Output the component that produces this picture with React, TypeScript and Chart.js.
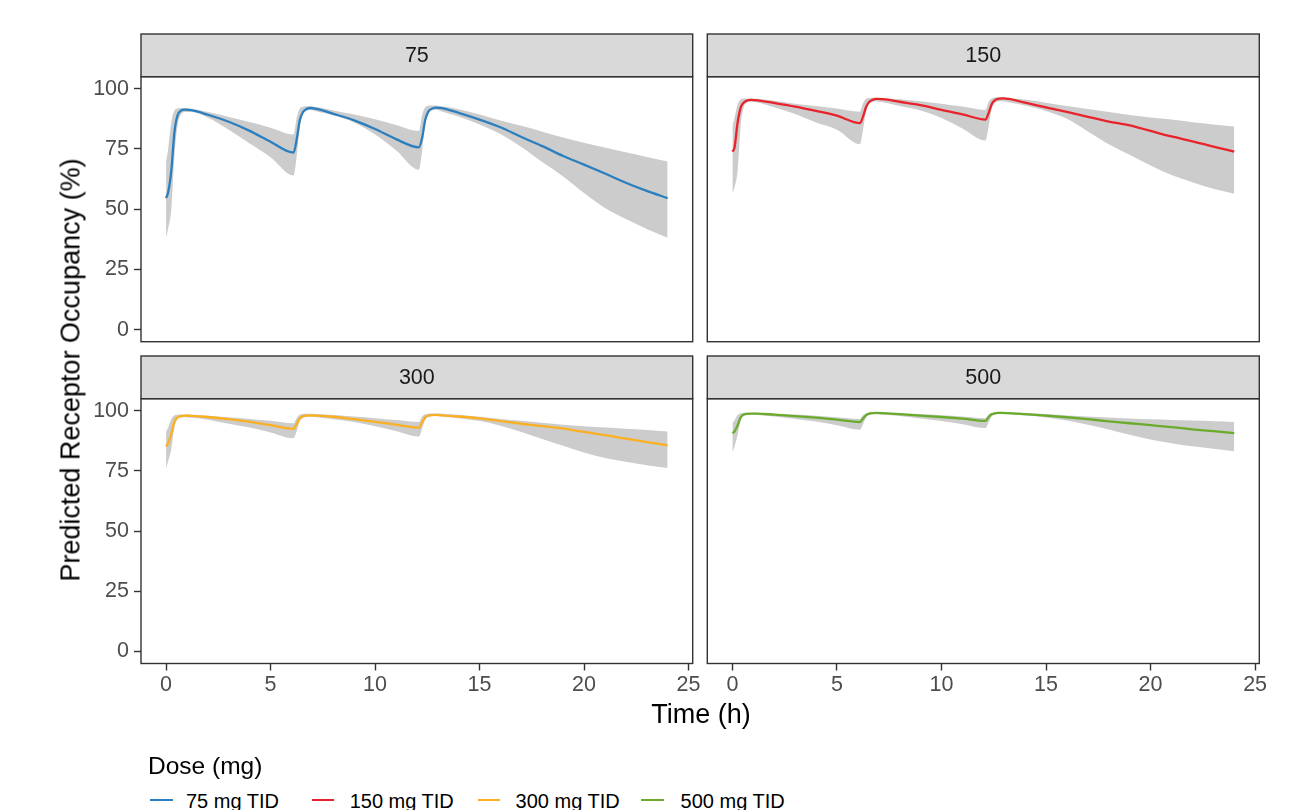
import React, { useEffect, useRef } from "react";
import { Chart, registerables } from "chart.js";

Chart.register(...registerables);

// ---------- data ----------
const timeHours = [
  0, 0.1, 0.25, 0.4, 0.55, 0.7, 0.9, 1.2, 2, 3, 4, 5,
  6.1, 6.25, 6.4, 6.55, 6.7, 6.9, 7.2, 8, 9, 10, 11,
  12.1, 12.25, 12.4, 12.55, 12.7, 12.9, 13.2,
  14, 15, 16, 17, 18, 19, 20, 21, 22, 23, 24,
];

const xTickValues = [0, 5, 10, 15, 20, 25];
const yTickValues = [0, 25, 50, 75, 100];

const panelLabels = ["75", "150", "300", "500"];
const legendLabels = ["75 mg TID", "150 mg TID", "300 mg TID", "500 mg TID"];
const seriesColors = ["#2b7fbf", "#e8232b", "#fbb022", "#6aab2c"];

const median75 = [54.6, 57, 66, 82, 89, 90.8, 91.3, 91.1, 89.2, 86.3, 82.5, 78, 73.5, 79, 87, 90.3, 91.5, 92, 91.6, 89.6, 86.9, 83.3, 79.1, 75.7, 79.5, 87, 90.5, 91.6, 92.2, 92, 90, 87.2, 84, 80, 76.2, 72.1, 68.5, 64.8, 61, 57.6, 54.6];
const upper75 = [69.6, 75, 86, 91, 91.8, 92, 92, 91.7, 90.3, 88.3, 86.2, 83.8, 81, 88, 91.8, 92.5, 92.7, 92.7, 92.4, 91, 89.3, 87.3, 85, 82.5, 89, 92.3, 92.9, 93, 93, 92.7, 91.5, 89.3, 86.8, 84.6, 82.2, 79.8, 77.6, 75.6, 73.6, 71.7, 69.8];
const lower75 = [38.1, 42, 50, 72, 85, 89, 90.3, 90.3, 88, 83, 77.3, 71.6, 64, 72, 84, 89.5, 90.8, 91.2, 90.6, 89, 86, 81, 74.5, 66.4, 74, 85.5, 90, 91.2, 91.3, 90.6, 88.5, 85.2, 81.2, 75.8, 69.6, 63.6, 56.7, 50.5, 45.9, 41.8, 38.1];

const median150 = [73.9, 75.5, 86, 92.3, 94.3, 95.1, 95.4, 95.2, 94.1, 92.6, 90.8, 88.8, 85.7, 88.5, 92.5, 94.6, 95.4, 95.8, 95.7, 94.6, 93.2, 91.2, 89.4, 87.2, 89.8, 93.6, 95.2, 95.8, 96, 95.8, 94.2, 92.3, 90.4, 88.3, 86.4, 84.8, 82.5, 80.2, 78.2, 76, 73.9];
const upper150 = [84.3, 88, 93.5, 95.5, 95.9, 96, 96, 95.8, 95, 93.8, 92.8, 91.8, 90.5, 94, 95.8, 96.2, 96.3, 96.3, 96.1, 95.6, 94.8, 93.8, 92.6, 91.2, 94.5, 96, 96.4, 96.5, 96.5, 96.3, 95.5, 94.2, 92.8, 91.6, 90.3, 89.1, 88.1, 87.2, 86.1, 85.2, 84.3];
const lower150 = [56.7, 59, 66, 85, 92.5, 94.3, 94.6, 94.3, 92.3, 89.5, 86, 83, 77, 83, 91, 93.8, 94.5, 94.7, 94.4, 92.8, 91, 87.9, 83.5, 78.5, 84, 91.5, 94, 94.7, 94.8, 94.4, 93, 90.8, 87.5, 82.3, 77, 72.6, 68.1, 64.2, 61.2, 58.5, 56.4];

const median300 = [85.2, 86.5, 90.5, 95.5, 97.2, 97.8, 98, 97.9, 97.4, 96.5, 95.4, 94, 92.5, 94.5, 96.8, 97.7, 98, 98.1, 98, 97.5, 96.5, 95.4, 94.2, 93, 95.2, 97.2, 97.9, 98.2, 98.3, 98.1, 97.6, 96.8, 95.7, 94.6, 93.6, 92.6, 91.2, 89.9, 88.4, 87, 85.6];
const upper300 = [91.4, 93, 96.5, 98, 98.3, 98.4, 98.4, 98.3, 97.9, 97.3, 96.6, 95.8, 94.8, 97, 98.3, 98.6, 98.7, 98.7, 98.6, 98.2, 97.6, 96.9, 96.1, 95.3, 97.5, 98.5, 98.8, 98.9, 98.9, 98.8, 98.3, 97.5, 96.6, 95.8, 95, 94.2, 93.6, 93, 92.5, 92, 91.4];
const lower300 = [76.2, 79, 84, 93, 96.5, 97.2, 97.3, 97.1, 96.3, 94.6, 93, 91, 88.6, 91.5, 95.8, 97, 97.4, 97.5, 97.3, 96.5, 95.3, 93.6, 91.6, 89.3, 92.5, 96.3, 97.4, 97.7, 97.8, 97.6, 96.9, 95.7, 93.8, 91.2, 88.3, 85.5, 82.7, 80.4, 78.8, 77.4, 76.2];

const median500 = [90.7, 91.3, 94, 97.3, 98.4, 98.7, 98.8, 98.8, 98.4, 97.8, 97.1, 96.3, 95.3, 96.8, 98.2, 98.8, 99, 99.1, 99, 98.6, 98, 97.4, 96.7, 95.8, 97.3, 98.5, 98.9, 99.1, 99.1, 99, 98.6, 98, 97.3, 96.5, 95.6, 94.8, 94, 93.2, 92.3, 91.5, 90.7];
const upper500 = [94.8, 96, 98.2, 99, 99.1, 99.2, 99.2, 99.1, 98.8, 98.4, 97.9, 97.3, 96.6, 98.2, 99, 99.3, 99.4, 99.4, 99.3, 99, 98.6, 98.1, 97.6, 96.9, 98.5, 99.2, 99.4, 99.5, 99.5, 99.4, 99.1, 98.6, 98, 97.6, 97.2, 96.8, 96.5, 96.2, 95.9, 95.6, 95.3];
const lower500 = [82.5, 85, 90, 96, 97.8, 98.2, 98.3, 98.2, 97.6, 96.6, 95.5, 94, 92.1, 94.5, 97.3, 98.2, 98.5, 98.5, 98.3, 97.8, 96.8, 95.7, 94.4, 92.8, 95, 97.6, 98.4, 98.7, 98.7, 98.5, 98, 97.2, 95.9, 94.2, 92.2, 90, 88, 86.5, 85.2, 84.2, 83.2];

const medians = [median75, median150, median300, median500];
const uppers = [upper75, upper150, upper300, upper500];
const lowers = [lower75, lower150, lower300, lower500];

// ---------- styling / layout ----------
const FONT = '"Liberation Sans", Arial, Helvetica, sans-serif';
const STRIP_H = 42.7;
const RIBBON = "#cccccc";
const BORDER = "#333333";

type Layout = {
  left: number; top: number; width: number; height: number;
  pad: { left: number; right: number; top: number; bottom: number };
  showX: boolean; showY: boolean;
};

const layouts: Layout[] = [
  { left: 0, top: 0, width: 730, height: 380, pad: { left: 0, right: 37.3, top: 76.7, bottom: 38.3 }, showX: false, showY: true },
  { left: 670, top: 0, width: 631, height: 380, pad: { left: 37.3, right: 41.7, top: 76.7, bottom: 38.3 }, showX: false, showY: false },
  { left: 0, top: 320, width: 730, height: 440, pad: { left: 0, right: 37.3, top: 78.7, bottom: 56.5 }, showX: true, showY: true },
  { left: 670, top: 320, width: 631, height: 440, pad: { left: 37.3, right: 41.7, top: 78.7, bottom: 56.5 }, showX: true, showY: false },
];

const toPoints = (vals: number[]) => timeHours.map((t, i) => ({ x: t, y: vals[i] }));

function makeStripPlugin(label: string) {
  return {
    id: "facetStrip",
    afterDraw(chart: any) {
      const { ctx, chartArea: a } = chart;
      const w = a.right - a.left;
      ctx.save();
      ctx.fillStyle = "#d9d9d9";
      ctx.fillRect(a.left, a.top - STRIP_H, w, STRIP_H);
      ctx.strokeStyle = BORDER;
      ctx.lineWidth = 1.4;
      ctx.strokeRect(a.left, a.top - STRIP_H, w, STRIP_H);
      ctx.strokeRect(a.left, a.top, w, a.bottom - a.top);
      ctx.fillStyle = "#1a1a1a";
      ctx.font = `21.5px ${FONT}`;
      ctx.textAlign = "center";
      ctx.textBaseline = "middle";
      ctx.fillText(label, a.left + w / 2, a.top - STRIP_H / 2 + 1);
      ctx.restore();
    },
  };
}

function Panel({ idx }: { idx: number }) {
  const ref = useRef<HTMLCanvasElement | null>(null);
  const L = layouts[idx];
  useEffect(() => {
    if (!ref.current) return;
    const tickFont = { family: FONT, size: 21.5 };
    const chart = new Chart(ref.current, {
      type: "line",
      data: {
        datasets: [
          {
            data: toPoints(medians[idx]),
            borderColor: seriesColors[idx],
            borderWidth: 2.3,
            pointRadius: 0,
            fill: false,
            cubicInterpolationMode: "monotone",
          },
          {
            data: toPoints(lowers[idx]),
            borderColor: "rgba(0,0,0,0)",
            borderWidth: 0,
            pointRadius: 0,
            fill: false,
            cubicInterpolationMode: "monotone",
          },
          {
            data: toPoints(uppers[idx]),
            borderColor: "rgba(0,0,0,0)",
            backgroundColor: RIBBON,
            borderWidth: 0,
            pointRadius: 0,
            fill: 1,
            cubicInterpolationMode: "monotone",
          },
        ] as any,
      },
      options: {
        animation: false,
        responsive: false,
        devicePixelRatio: 1,
        events: [],
        layout: { padding: L.pad },
        plugins: { legend: { display: false }, tooltip: { enabled: false } },
        scales: {
          x: {
            type: "linear",
            min: -1.2,
            max: 25.2,
            afterBuildTicks: (s: any) => { s.ticks = xTickValues.map((v) => ({ value: v })); },
            afterFit: (s: any) => { s.height = L.showX ? 40 : 0; },
            ticks: { display: L.showX, color: "#4d4d4d", font: tickFont, padding: 2, maxRotation: 0, autoSkip: false },
            grid: { display: L.showX, drawOnChartArea: false, drawTicks: true, tickLength: 7, tickColor: BORDER, tickWidth: 1.4 },
            border: { display: false },
          },
          y: {
            type: "linear",
            min: -5,
            max: 105,
            afterBuildTicks: (s: any) => { s.ticks = yTickValues.map((v) => ({ value: v })); },
            afterFit: (s: any) => { s.width = L.showY ? 141 : 0; },
            ticks: { display: L.showY, color: "#4d4d4d", font: tickFont, padding: 5, autoSkip: false },
            grid: { display: L.showY, drawOnChartArea: false, drawTicks: true, tickLength: 7, tickColor: BORDER, tickWidth: 1.4 },
            border: { display: false },
          },
        },
      } as any,
      plugins: [makeStripPlugin(panelLabels[idx])],
    });
    return () => chart.destroy();
  }, [idx]);
  return (
    <canvas
      ref={ref}
      width={L.width}
      height={L.height}
      style={{ position: "absolute", left: L.left, top: L.top, width: L.width, height: L.height }}
    />
  );
}

const legendKeyX = [150, 311.5, 477.5, 641];
const legendTextX = [186, 349.7, 515.6, 680.6];

export default function App() {
  return (
    <div
      style={{
        position: "absolute", left: 0, top: 0, width: 1301, height: 810,
        overflow: "hidden", background: "#ffffff", fontFamily: FONT,
      }}
    >
      {layouts.map((_, i) => <Panel key={i} idx={i} />)}
      <div
        style={{
          position: "absolute", left: 71, top: 370, fontSize: 27, lineHeight: "27px",
          color: "#000", whiteSpace: "nowrap",
          transform: "translate(-50%, -50%) rotate(-90deg)",
        }}
      >
        Predicted Receptor Occupancy (%)
      </div>
      <div
        style={{
          position: "absolute", left: 701, top: 701.4, fontSize: 27, lineHeight: "27px",
          color: "#000", whiteSpace: "nowrap", transform: "translateX(-50%)",
        }}
      >
        Time (h)
      </div>
      <div
        style={{
          position: "absolute", left: 148, top: 754, fontSize: 24.5, lineHeight: "24.5px",
          color: "#000", whiteSpace: "nowrap",
        }}
      >
        Dose (mg)
      </div>
      {legendLabels.map((lab, i) => (
        <React.Fragment key={lab}>
          <div
            style={{
              position: "absolute", left: legendKeyX[i], top: 799, width: 22.5, height: 2.3,
              background: seriesColors[i],
            }}
          />
          <div
            style={{
              position: "absolute", left: legendTextX[i], top: 791.3, fontSize: 20, lineHeight: "20px",
              color: "#000", whiteSpace: "nowrap",
            }}
          >
            {lab}
          </div>
        </React.Fragment>
      ))}
    </div>
  );
}
